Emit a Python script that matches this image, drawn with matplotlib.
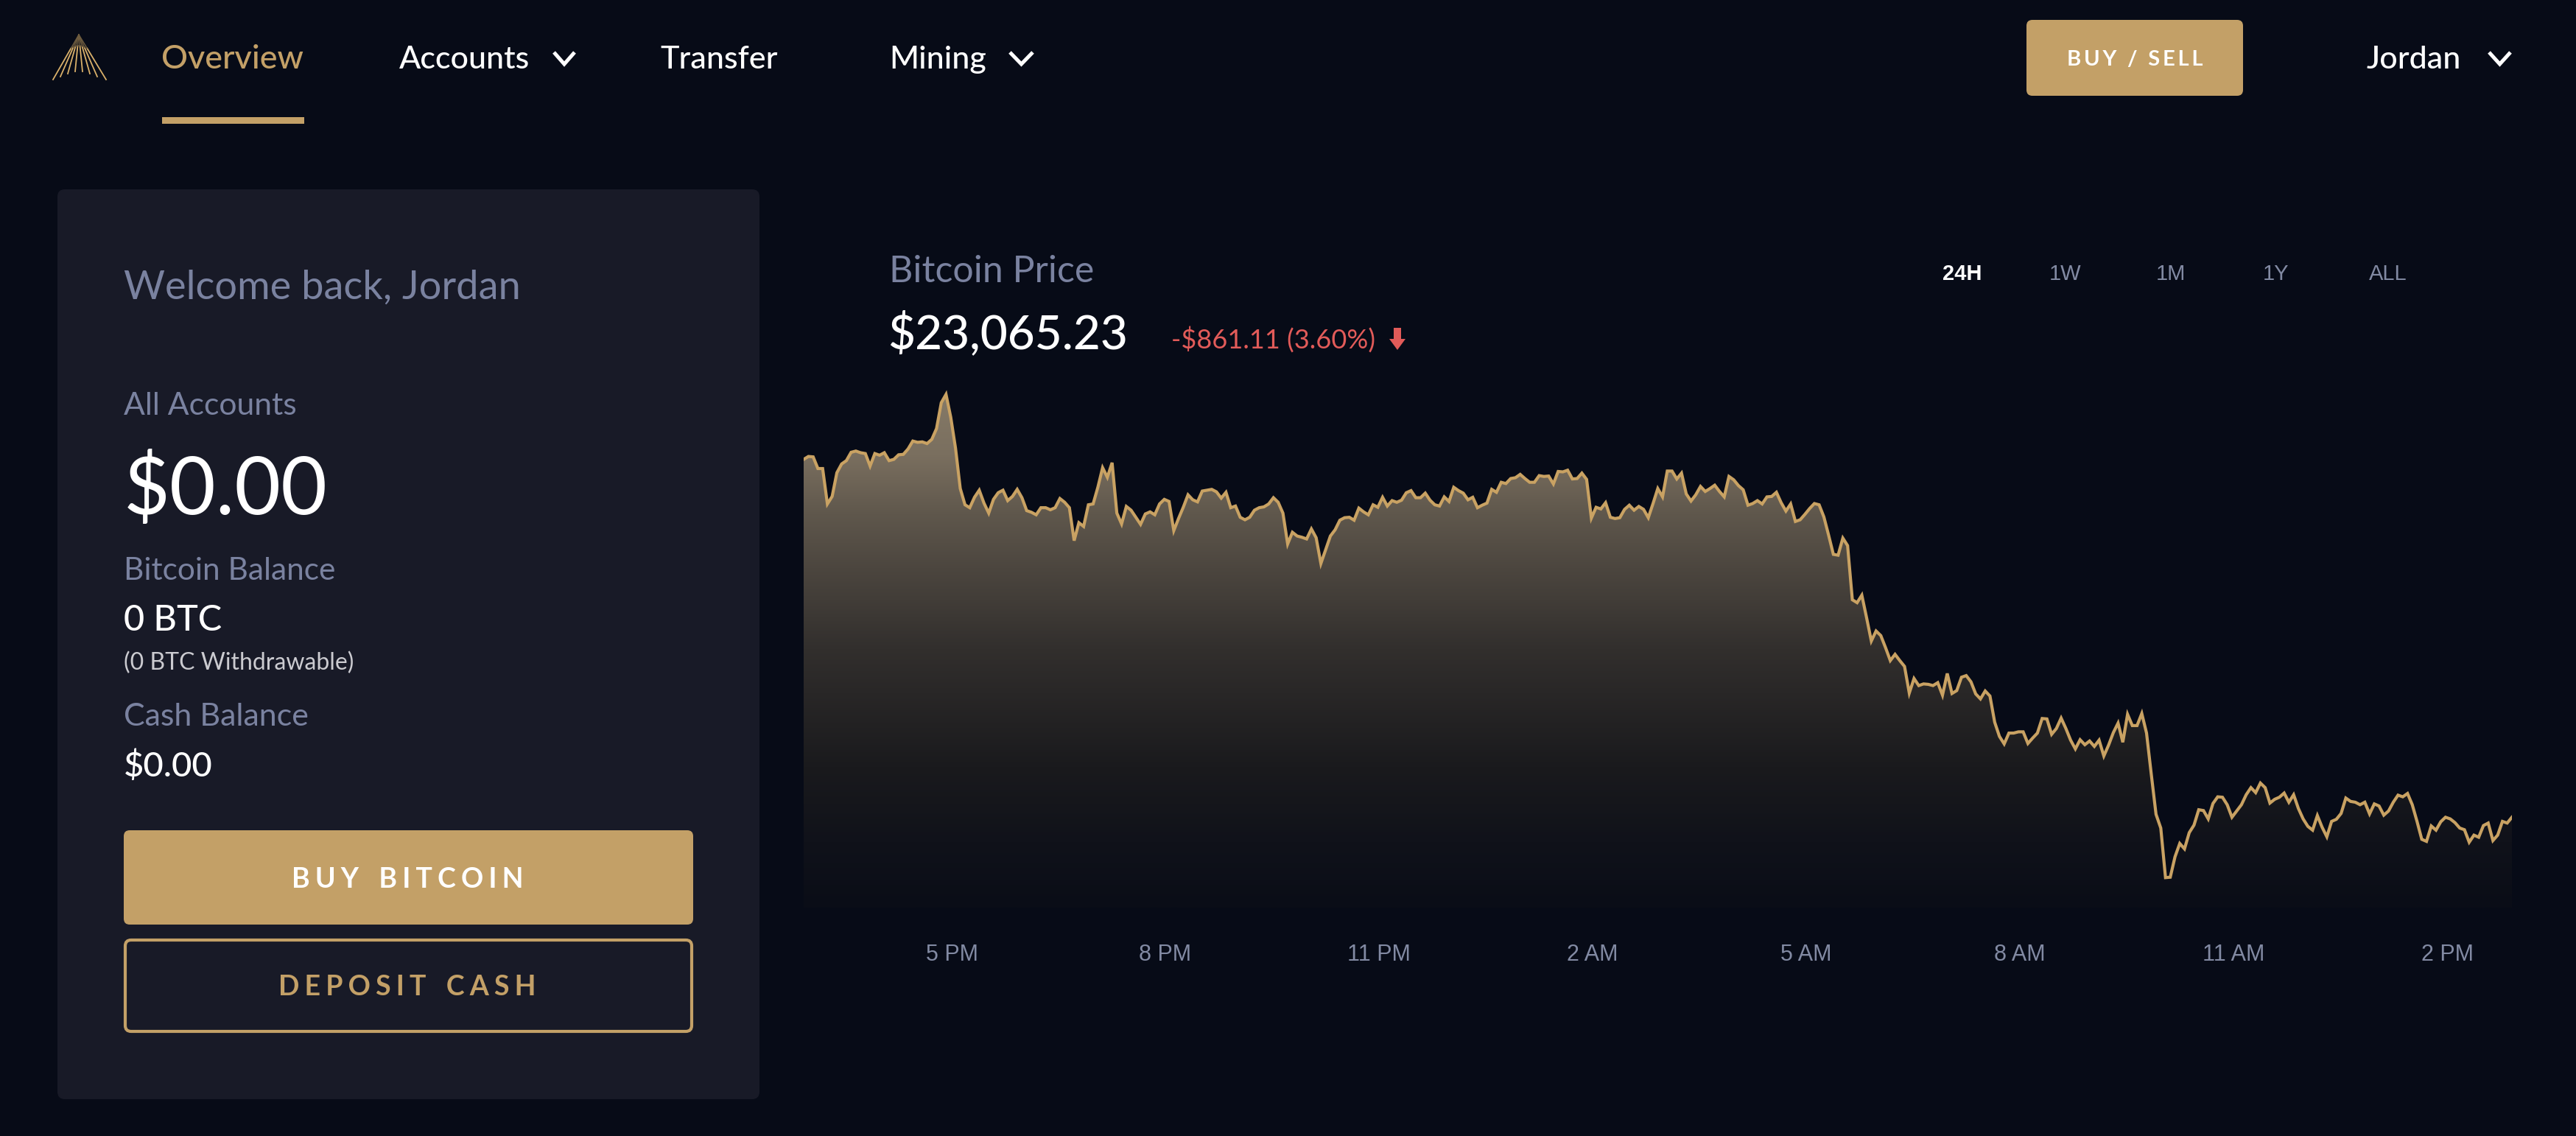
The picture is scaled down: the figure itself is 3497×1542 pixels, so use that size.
import numpy as np
import matplotlib
matplotlib.use("Agg")
import matplotlib.pyplot as plt
from matplotlib.colors import LinearSegmentedColormap
from matplotlib.patches import FancyBboxPatch, Rectangle, Polygon

# bitcoin price, one reading every 4 minutes
price = [
    23925, 23932, 23931, 23903, 23903, 23818, 23836, 23893, 23914, 23922, 23942, 23945, 23941, 23939, 23909,
    23939, 23935, 23941, 23922, 23925, 23936, 23937, 23950, 23969, 23966, 23967, 23963, 23973, 23999, 24061,
    24081, 24026, 23952, 23855, 23816, 23809, 23834, 23851, 23820, 23796, 23829, 23845, 23851, 23826, 23836,
    23853, 23833, 23802, 23798, 23792, 23809, 23809, 23804, 23809, 23831, 23822, 23809, 23730, 23773, 23764,
    23816, 23818, 23858, 23905, 23882, 23917, 23796, 23770, 23812, 23803, 23786, 23769, 23794, 23799, 23792,
    23818, 23829, 23824, 23754, 23783, 23810, 23840, 23828, 23823, 23849, 23851, 23853, 23847, 23832, 23846,
    23809, 23813, 23786, 23780, 23786, 23803, 23809, 23811, 23818, 23833, 23822, 23796, 23722, 23750, 23741,
    23738, 23734, 23758, 23737, 23675, 23708, 23741, 23756, 23779, 23785, 23786, 23779, 23808, 23799, 23792,
    23816, 23810, 23834,
    23813, 23826, 23822, 23827, 23845, 23850, 23833, 23833, 23844, 23827, 23816, 23813, 23835, 23824, 23858,
    23850, 23844, 23828, 23834, 23809, 23815, 23820, 23853, 23846, 23870, 23867, 23879, 23881, 23889, 23879,
    23870, 23870, 23886, 23884, 23885, 23866, 23896, 23895, 23899, 23878, 23879, 23892, 23877, 23784, 23810,
    23806, 23821, 23786, 23783, 23785, 23805, 23815, 23803, 23812, 23805, 23785, 23819, 23855, 23835, 23897,
    23897, 23878, 23892, 23842, 23825, 23840, 23860, 23848, 23855, 23863, 23848, 23835, 23884, 23876, 23862,
    23852, 23815, 23819, 23826, 23818, 23835, 23836, 23846, 23821, 23801, 23818, 23776, 23780, 23793, 23807,
    23819, 23816, 23787, 23743, 23697, 23695, 23736, 23718, 23588, 23581, 23599, 23545, 23489, 23513, 23502,
    23473,
    23442, 23457, 23442, 23428, 23364, 23399, 23382, 23386, 23385, 23382, 23389, 23359, 23411, 23363, 23370,
    23402, 23406, 23391, 23362, 23350, 23369, 23357, 23294, 23260, 23242, 23268, 23268, 23271, 23271, 23243,
    23256, 23268, 23303, 23302, 23265, 23279, 23304, 23279, 23251, 23230, 23252, 23240, 23249, 23236, 23251,
    23213, 23239, 23269, 23292, 23246, 23313, 23286, 23286, 23315, 23268, 23169, 23073, 23040, 22921, 22922,
    22971, 23003, 22990, 23029, 23047, 23084, 23082, 23062, 23099, 23115, 23114, 23096, 23066, 23081, 23096,
    23120, 23137, 23125, 23148, 23137, 23100, 23109, 23114, 23124, 23102, 23120, 23087, 23062, 23044, 23035,
    23070, 23042, 23019, 23056, 23061, 23075, 23112, 23104, 23102, 23096, 23102, 23074, 23098, 23093, 23071,
    23081, 23102, 23119, 23115, 23123, 23096, 23056, 23013, 23008, 23045, 23035, 23055, 23066, 23062, 23053,
    23040, 23036, 23006, 23023, 23018, 23046, 23052, 23010, 23023, 23056, 23052, 23066,
]
tick_hours = [17, 20, 23, 26, 29, 32, 35, 38]
tick_labels = ["5 PM", "8 PM", "11 PM", "2 AM", "5 AM", "8 AM", "11 AM", "2 PM"]
ranges = ["24H", "1W", "1M", "1Y", "ALL"]

W, H = 3498, 1542
BG = "#070b17"
PANEL = "#181a27"
GOLD = "#c3a067"
LINE = "#c9a263"
GREY = "#7a82a0"
TICK = "#828aa3"
RED = "#e25b59"
SANS = ["Lato", "DejaVu Sans"]
HELV = ["Liberation Sans", "DejaVu Sans"]

fig = plt.figure(figsize=(W / 100, H / 100), dpi=100, facecolor=BG)
ui = fig.add_axes([0, 0, 1, 1])
ui.set_xlim(0, W)
ui.set_ylim(H, 0)
ui.axis("off")


def txt(x, y, s, pt, color="white", ha="left", weight="normal", family=SANS):
    ui.text(x, y, s, fontsize=pt, color=color, ha=ha, va="baseline", fontweight=weight, family=family)


def box(x0, y0, x1, y1, face, edge="none", lw=0, r=8):
    ui.add_patch(FancyBboxPatch((x0 + r, y0 + r), x1 - x0 - 2 * r, y1 - y0 - 2 * r,
                                boxstyle="round,pad=%d,rounding_size=%d" % (r, r),
                                fc=face, ec=edge, lw=lw))


def chevron(x0, x1, y0, y1):
    ui.plot([x0, (x0 + x1) / 2, x1], [y0, y1, y0], color="white", lw=3.6, solid_capstyle="butt", solid_joinstyle="miter")


def tracked(s, n=2):
    return ("\u200a" * n).join(s)


# logo
for bx, by in zip([72, 82, 92, 102, 112, 122, 132, 144], [108, 104, 100, 97, 97, 100, 104, 108]):
    ui.plot([107 + (bx - 107) * 0.3, bx], [47 + (by - 47) * 0.3, by], color="#d9b06a", lw=1.3)
    ui.plot([107, 107 + (bx - 107) * 0.3], [47, 47 + (by - 47) * 0.3], color="#6e5c3f", lw=1.0)

# top nav
txt(219, 93, "Overview", 32.3, GOLD, weight="medium")
txt(542, 93, "Accounts", 31, weight="medium")
chevron(752, 780, 71, 87)
txt(896, 93, "Transfer", 31, weight="medium")
txt(1207, 93, "Mining", 31, weight="medium")
chevron(1371, 1402, 71, 87)
txt(3213, 93, "Jordan", 31, weight="medium")
chevron(3379, 3408, 71, 87)
ui.add_patch(Rectangle((220, 159), 193, 9, fc=GOLD, ec="none"))
box(2751, 27, 3045, 130, GOLD)
txt(2898, 89, tracked("BUY / SELL"), 21, "white", "center", "bold")

# left panel
box(78, 257, 1031, 1492, PANEL, r=10)
txt(168, 406, "Welcome back, Jordan", 39, GREY)
txt(168, 563, "All Accounts", 30.7, GREY)
txt(168, 698, "$0.00", 78)
txt(168, 787, "Bitcoin Balance", 30.5, GREY)
txt(168, 856, "0 BTC", 35, weight="medium")
txt(168, 909, "(0 BTC Withdrawable)", 23, "#cbcbd0")
txt(168, 985, "Cash Balance", 31, GREY)
txt(168, 1054, "$0.00", 34, weight="medium")
box(168, 1127, 941, 1255, GOLD)
txt(553, 1205, tracked("BUY", 3) + "   " + tracked("BITCOIN", 3), 27, "white", "center", "bold")
box(170, 1276, 939, 1400, PANEL, GOLD, 3)
txt(553, 1351, tracked("DEPOSIT", 3) + "   " + tracked("CASH", 3), 27, GOLD, "center", "bold")

# chart header
txt(1207, 383, "Bitcoin Price", 36, GREY)
txt(1205, 473, "$23,065.23", 46, weight="medium")
txt(1590, 473, "-$861.11 (3.60%)", 26, RED)
ui.add_patch(Polygon([(1892, 445), (1902, 445), (1902, 460), (1908, 460), (1897, 475), (1886, 460), (1892, 460)],
                     fc=RED, ec="none"))
for name, cx in zip(ranges, [2664, 2804, 2947, 3090, 3242]):
    active = name == "24H"
    txt(cx, 380, name, 21, "white" if active else TICK, "center", "bold" if active else "normal", HELV)

# price chart
x0, x1, y0, y1 = 1091, 3410, 500, 1232
ax = fig.add_axes([x0 / W, 1 - y1 / H, (x1 - x0) / W, (y1 - y0) / H])
ax.patch.set_alpha(0)
hours = 14.92 + np.arange(len(price)) * (23.99 / (len(price) - 1))
ax.set_xlim(hours[0], hours[-1])
ax.set_ylim(22849, 24143.5)
for s in ax.spines.values():
    s.set_visible(False)
ax.set_yticks([])
ax.set_xticks(tick_hours)
ax.set_xticklabels(tick_labels, color=TICK, fontsize=22, family=HELV)
ax.tick_params(axis="x", length=0, pad=35)

cmap = LinearSegmentedColormap.from_list("fade", [
    (0.0, "#8a7e6a"), (0.16, "#7a6f5f"), (0.27, "#5f574c"), (0.37, "#4c463f"), (0.52, "#322f2d"),
    (0.74, "#1a1a1d"), (0.88, "#10121a"), (1.0, "#0a0d17")])
grad = np.linspace(0, 1, 256).reshape(-1, 1)
im = ax.imshow(grad, cmap=cmap, aspect="auto", extent=[hours[0], hours[-1], 22849, 24143.5], origin="upper", zorder=1)
area = ax.fill_between(hours, price, 22849, color="none")
im.set_clip_path(area.get_paths()[0], ax.transData)
ax.plot(hours, price, color=LINE, lw=3, solid_joinstyle="miter", zorder=2)

fig.savefig("out.png", dpi=100, facecolor=BG)
